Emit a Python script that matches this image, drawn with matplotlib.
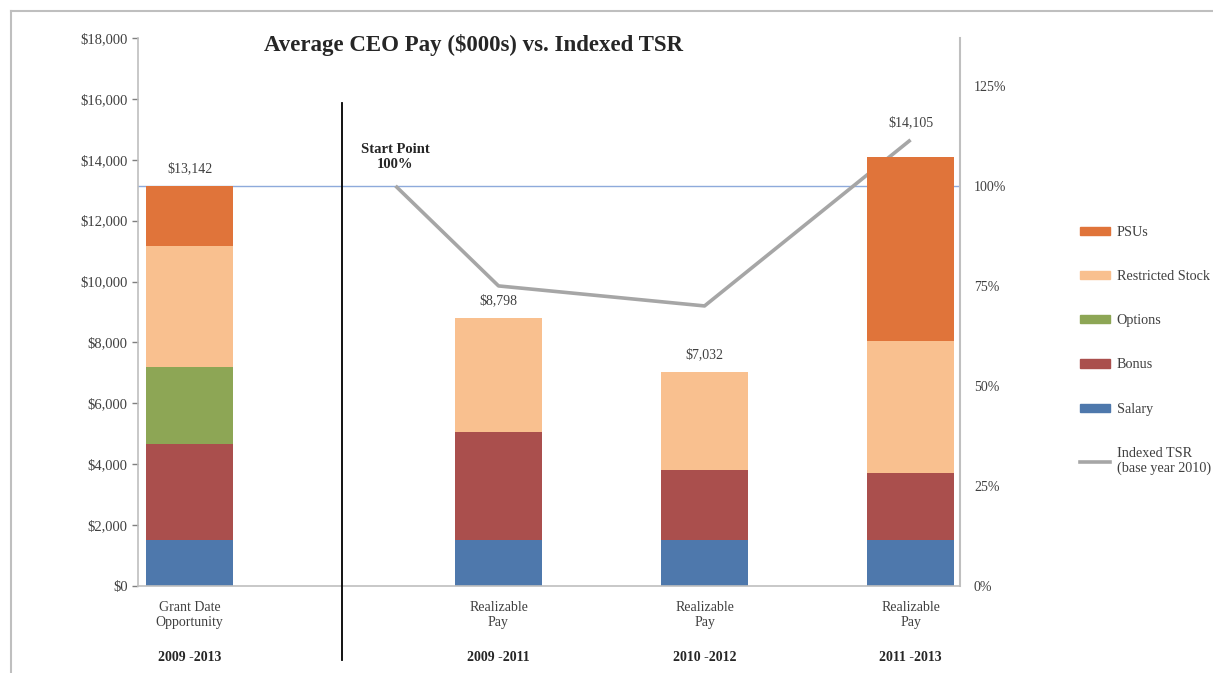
import matplotlib
matplotlib.use("Agg")
import matplotlib.pyplot as plt
from matplotlib.patches import Patch
from matplotlib.lines import Line2D
from matplotlib.ticker import FuncFormatter

plt.rcParams['font.family'] = ['Liberation Serif', 'DejaVu Serif']

# data ($000s)
x_pos = [0, 1.5, 2.5, 3.5]
labels = ["Grant Date\nOpportunity", "Realizable\nPay", "Realizable\nPay", "Realizable\nPay"]
periods = ["2009 -2013", "2009 -2011", "2010 -2012", "2011 -2013"]
salary = [1500, 1500, 1500, 1500]
bonus = [3150, 3550, 2310, 2200]
options = [2550, 0, 0, 0]
restricted = [3970, 3748, 3222, 4350]
psus = [1972, 0, 0, 6055]
totals = [13142, 8798, 7032, 14105]

tsr_x = [1.0, 1.5, 2.5, 3.5]
tsr = [100, 75, 70, 111.5]

c_salary = "#4E78AC"
c_bonus = "#AA4F4D"
c_options = "#8DA655"
c_restricted = "#F9C08F"
c_psus = "#E0743A"
c_tsr = "#A6A6A6"
txt = "#404040"

fig = plt.figure(figsize=(12.13, 6.73), dpi=100)
ax = fig.add_axes([138/1213, 1-586/673, (960-138)/1213, (586-38)/673])

w = 0.42
bottom = [0, 0, 0, 0]
for vals, col in [(salary, c_salary), (bonus, c_bonus), (options, c_options),
                  (restricted, c_restricted), (psus, c_psus)]:
    ax.bar(x_pos, vals, w, bottom=bottom, color=col, zorder=2)
    bottom = [b + v for b, v in zip(bottom, vals)]

# value labels on top of bars
offsets = [8, 8, 8, 20]
for x, t, off in zip(x_pos, totals, offsets):
    ax.annotate("${:,}".format(t), (x, t), xytext=(0, off), textcoords="offset points",
                ha="center", va="bottom", fontsize=10, color=txt)

ax.set_xlim(-0.25, 3.74)
ax.set_ylim(0, 18000)
ax.set_yticks(range(0, 18001, 2000))
ax.yaxis.set_major_formatter(FuncFormatter(lambda v, p: "${:,.0f}".format(v)))
ax.tick_params(axis="y", labelsize=10.5, colors="#7f7f7f", labelcolor=txt, length=4, width=1)
ax.set_xticks([])
for s in ["top", "right"]:
    ax.spines[s].set_visible(False)
ax.spines["left"].set_color("#BFBFBF")
ax.spines["bottom"].set_color("#BFBFBF")
ax.spines["left"].set_linewidth(1.2)
ax.spines["bottom"].set_linewidth(1.2)

# category labels below axis
for x, lab, per in zip(x_pos, labels, periods):
    ax.text(x, -0.027, lab, transform=ax.get_xaxis_transform(), ha="center", va="top",
            fontsize=10, color=txt, linespacing=1.2)
    ax.text(x, -0.131, per, transform=ax.get_xaxis_transform(), ha="center", va="center",
            fontsize=10, fontweight="bold", color="#262626")

# divider between grant and realizable
ax.axvline(0.74, ymin=-0.135, ymax=0.881, color="black", lw=1.3, clip_on=False, zorder=3)

# TSR on secondary axis, 100% aligned to grant-date total
ax2 = ax.twinx()
ax2.set_ylim(0, 100 * 18000 / totals[0])
ax2.set_xlim(ax.get_xlim())
ax2.axhline(100, color="#8EAADB", lw=1, zorder=1)
ax2.plot(tsr_x, tsr, color=c_tsr, lw=2.6, zorder=4, solid_capstyle="butt")
ax2.set_yticks(range(0, 126, 25))
ax2.yaxis.set_major_formatter(FuncFormatter(lambda v, p: "{:.0f}%".format(v)))
ax2.tick_params(axis="y", labelsize=10, labelcolor=txt, length=0, pad=10)
for s in ["top", "left", "bottom"]:
    ax2.spines[s].set_visible(False)
ax2.spines["right"].set_color("#BFBFBF")
ax2.spines["right"].set_linewidth(1.5)

ax2.text(tsr_x[0], 100 + 3.8, "Start Point\n100%", ha="center", va="bottom", fontsize=10.5,
         fontweight="bold", color="#262626", linespacing=1.15)

ax.set_zorder(ax2.get_zorder() + 1)
ax.patch.set_visible(False)

# title
fig.text(474/1213, 1-45/673, "Average CEO Pay ($000s) vs. Indexed TSR", ha="center", va="center",
         fontsize=16.5, fontweight="bold", color="#262626")

# legend
handles = [Patch(color=c_psus), Patch(color=c_restricted), Patch(color=c_options),
           Patch(color=c_bonus), Patch(color=c_salary), Line2D([], [], color=c_tsr, lw=2.6)]
names = ["PSUs", "Restricted Stock", "Options", "Bonus", "Salary", "Indexed TSR\n(base year 2010)"]
fig.legend(handles, names, loc="upper left", bbox_to_anchor=(1080/1213, 1-226/673), frameon=False,
           fontsize=10.2, labelspacing=2.2, handlelength=2.1, handleheight=0.5, handletextpad=0.5,
           borderpad=0, borderaxespad=0, labelcolor=txt)

# outer frame
fig.add_artist(Line2D([11/1213, 11/1213], [0, 1-11/673], color="#BFBFBF", lw=1.5, transform=fig.transFigure))
fig.add_artist(Line2D([11/1213, 1], [1-11/673, 1-11/673], color="#BFBFBF", lw=1.5, transform=fig.transFigure))

fig.savefig("out.png", dpi=100)
